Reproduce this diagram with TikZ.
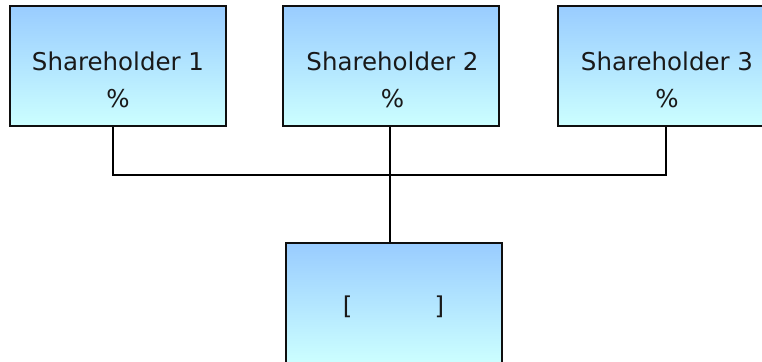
\documentclass[tikz,border=0pt]{standalone}
\usepackage{fontspec}
\setmainfont{DejaVu Sans}
\definecolor{boxtop}{RGB}{153,204,255}
\definecolor{boxbot}{RGB}{204,255,255}
\definecolor{edge}{RGB}{15,15,15}
\begin{document}
\begin{tikzpicture}[x=1pt,y=-1pt,
  sbox/.style={draw=edge,line width=2pt,top color=boxtop,bottom color=boxbot,
    minimum width=216pt,minimum height=120pt,inner sep=0pt},
  txt/.style={font=\fontsize{24.5}{37}\selectfont,align=center,text=black!90,inner sep=0pt},
  conn/.style={line width=2pt,draw=black}]
\useasboundingbox (0,0) rectangle (762,361);
\node[sbox] (b1) at (117.5,66) {};
\node[sbox] (b2) at (391,66) {};
\node[sbox] (b3) at (666,66) {};
\node[sbox] (b4) at (394,303) {};
\node[txt] (t1) at (118,80) {Shareholder 1\\\%};
\node[txt] (t2) at (392.5,80) {Shareholder 2\\\%};
\node[txt] (t3) at (667,80) {Shareholder 3\\\%};
\node[txt] (t4) at (393.5,307) {[\hspace{82pt}]};
\coordinate (j) at (390,175);
\draw[conn] ([xshift=-4.5pt]b1.south) |- (j);
\draw[conn] (b3.south) |- (j);
\draw[conn] ([xshift=-1pt]b2.south) -- (j);
\draw[conn] (j) -- (j |- b4.north);
\end{tikzpicture}
\end{document}
